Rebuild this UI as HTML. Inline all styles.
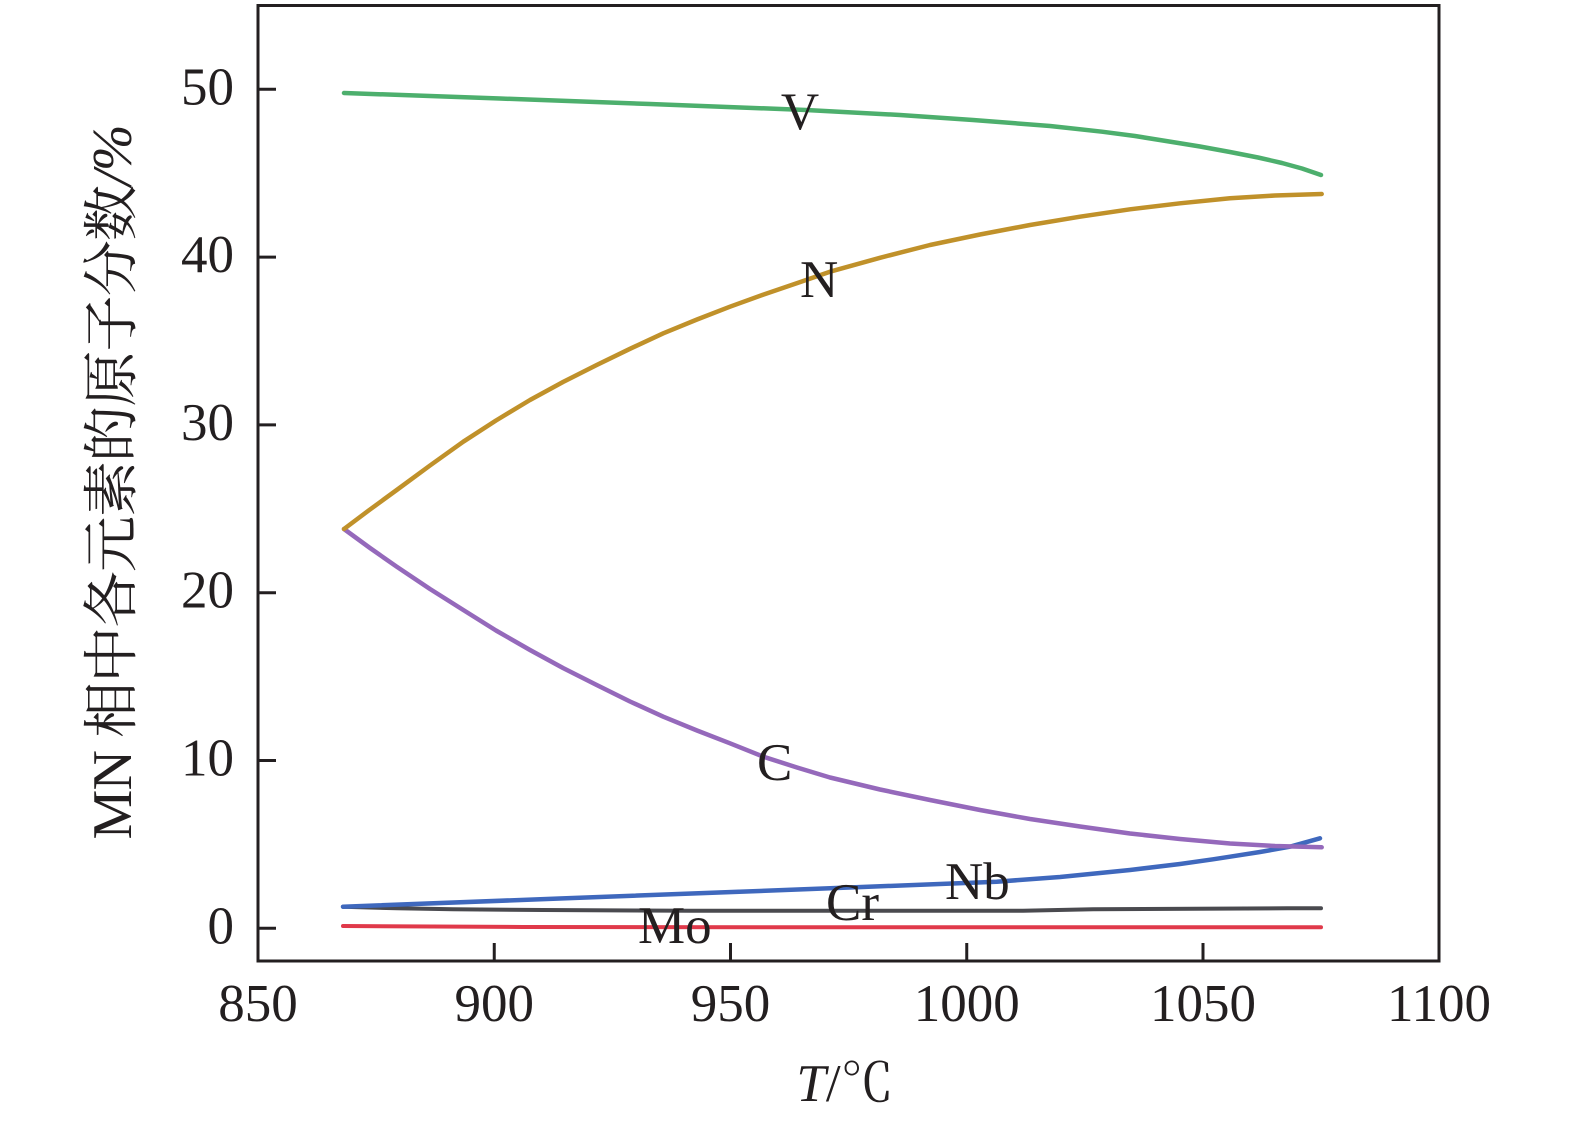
<!DOCTYPE html>
<html>
<head>
<meta charset="utf-8">
<style>
  html, body { margin: 0; padding: 0; background: #ffffff; }
  svg { display: block; }
  text { font-family: "Liberation Serif", "Noto Serif CJK SC", "Noto Sans CJK SC", serif; fill: #231f20; }
</style>
</head>
<body>
<svg width="1575" height="1130" viewBox="0 0 1575 1130" xmlns="http://www.w3.org/2000/svg">
  <rect x="0" y="0" width="1575" height="1130" fill="#ffffff"/>

  <!-- series -->
  <g fill="none" stroke-linecap="round" stroke-linejoin="round">
    <!-- Mo -->
    <polyline stroke="#e0394a" stroke-width="4" points="343,926 523,927 830,927.3 1321,927.3"/>
    <!-- Cr -->
    <polyline stroke="#4a4a4f" stroke-width="4" points="343,906.7 397,908.3 453,909.3 543,910 690,910.7 1023,910.7 1093,909.3 1287,908.3 1321,908.3"/>
    <!-- Nb -->
    <polyline stroke="#3f68bd" stroke-width="4.5" points="343,906.7 563,898.4 830,888.3 996.7,881.7 1060,877 1130,870 1180,864 1213,859.3 1230,856.7 1260,852 1290,846.7 1320,838.3"/>
    <!-- C -->
    <polyline stroke="#9569bb" stroke-width="4.5" points="344,529 370,548 396.7,566.7 430,589 463.3,610 496,630.5 530,650 563,668 596.7,685 630,701.5 663.3,716.7 697,730.5 730,743.3 763.3,756.7 797,767.5 830,777.5 880,789.5 930,800 980,810 1030,819 1080,826.5 1130,833.5 1180,839 1230,843.5 1275,846 1321.7,847.3"/>
    <!-- N -->
    <polyline stroke="#c0912a" stroke-width="4.5" points="344,529 370,509.5 396.7,490 430,465.5 463.3,441.7 496,420.5 530,400 563,382 596.7,365 630,348.8 663.3,333.3 697,319.5 730,306.7 763,294.7 796.7,283.3 830,271.7 880,257.8 930,245 980,234.5 1030,225 1080,216.7 1130,209.3 1180,203.3 1230,198.3 1275,195.5 1321.7,194"/>
    <!-- V -->
    <polyline stroke="#4daf6d" stroke-width="4.5" points="344,93 500,98.5 650,104 806,110 900,115 973,120 1050,126 1102,131.7 1135,136 1166,141 1200,146.5 1230,152 1258,157.5 1282,163 1302,168.5 1321,175"/>
  </g>

  <!-- frame -->
  <rect x="258" y="5.5" width="1181" height="955.5" fill="none" stroke="#231f20" stroke-width="3"/>

  <!-- y ticks -->
  <g stroke="#231f20" stroke-width="3">
    <line x1="258" y1="928.3" x2="276" y2="928.3"/>
    <line x1="258" y1="760.5" x2="276" y2="760.5"/>
    <line x1="258" y1="592.7" x2="276" y2="592.7"/>
    <line x1="258" y1="424.9" x2="276" y2="424.9"/>
    <line x1="258" y1="257.1" x2="276" y2="257.1"/>
    <line x1="258" y1="89.3" x2="276" y2="89.3"/>
    <!-- x ticks -->
    <line x1="494.25" y1="961" x2="494.25" y2="943"/>
    <line x1="730.5" y1="961" x2="730.5" y2="943"/>
    <line x1="966.75" y1="961" x2="966.75" y2="943"/>
    <line x1="1203" y1="961" x2="1203" y2="943"/>
  </g>

  <!-- y tick labels -->
  <g font-size="53" text-anchor="end">
    <text x="234" y="943.3">0</text>
    <text x="234" y="775.5">10</text>
    <text x="234" y="607.7">20</text>
    <text x="234" y="439.9">30</text>
    <text x="234" y="272.1">40</text>
    <text x="234" y="104.3">50</text>
  </g>

  <!-- x tick labels -->
  <g font-size="53" text-anchor="middle">
    <text x="258" y="1021">850</text>
    <text x="494.25" y="1021">900</text>
    <text x="730.5" y="1021">950</text>
    <text x="966.75" y="1021">1000</text>
    <text x="1203" y="1021">1050</text>
    <text x="1439" y="1021">1100</text>
  </g>

  <!-- series labels -->
  <g font-size="53">
    <text x="800" y="129" text-anchor="middle">V</text>
    <text x="800" y="297">N</text>
    <text x="757" y="780">C</text>
    <text x="945" y="899">Nb</text>
    <text x="826" y="920">Cr</text>
    <text x="638" y="943">Mo</text>
  </g>

  <!-- axis titles -->
  <text font-size="53" text-anchor="middle" x="845" y="1101"><tspan font-style="italic">T</tspan>/℃</text>
  <text font-size="56" text-anchor="middle" textLength="715" lengthAdjust="spacing" transform="translate(131,482) rotate(-90)">MN 相中各元素的原子分数<tspan font-style="italic">/%</tspan></text>
</svg>
</body>
</html>
